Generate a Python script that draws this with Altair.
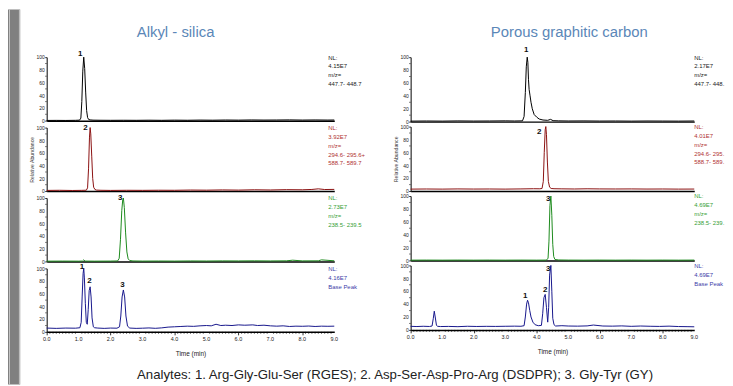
import altair as alt
import pandas as pd

FONT = "Liberation Sans"

# ---------------- data ----------------
# Alkyl-silica column
LS_MZ447_T = [0.0, 0.3, 0.6, 0.9, 1.03, 1.07, 1.10, 1.13, 1.16, 1.19, 1.22, 1.25, 1.28, 1.31, 1.36, 1.45, 1.7, 2.0, 2.4, 2.8, 3.2, 3.6, 4.0, 4.4, 4.8, 5.2, 5.6, 6.0, 6.4, 6.8, 7.2, 7.6, 8.0, 8.4, 8.8, 9.0]
LS_MZ447_V = [0.3, 0.4, 0.3, 0.5, 0.8, 4, 30, 78, 100, 82, 45, 16, 5, 2, 1.2, 0.8, 0.6, 0.5, 0.6, 0.5, 0.7, 0.5, 0.8, 0.6, 0.9, 0.7, 1.0, 0.8, 1.1, 0.9, 1.0, 1.2, 0.9, 1.1, 0.9, 1.0]

LS_MZ294_T = [0.0, 0.4, 0.8, 1.1, 1.24, 1.28, 1.31, 1.34, 1.36, 1.38, 1.41, 1.44, 1.47, 1.51, 1.56, 1.7, 2.0, 2.5, 3.0, 3.5, 4.0, 4.5, 5.0, 5.5, 6.0, 6.5, 7.0, 7.5, 8.0, 8.3, 8.5, 8.7, 9.0]
LS_MZ294_V = [1.0, 1.2, 0.9, 1.1, 1.3, 5, 35, 85, 100, 90, 55, 20, 6, 2.5, 1.5, 1.2, 1.0, 1.2, 1.1, 1.3, 1.2, 1.6, 1.4, 1.8, 1.5, 2.0, 1.7, 2.2, 2.0, 2.5, 3.5, 2.4, 2.6]

LS_MZ238_T = [0.0, 0.5, 1.0, 1.12, 1.16, 1.2, 1.5, 2.0, 2.22, 2.27, 2.31, 2.35, 2.38, 2.40, 2.43, 2.47, 2.51, 2.55, 2.60, 2.7, 3.0, 3.5, 4.0, 4.5, 5.0, 5.5, 6.0, 6.5, 7.0, 7.5, 7.7, 8.0, 8.5, 8.6, 9.0]
LS_MZ238_V = [0.5, 0.6, 0.5, 0.6, 2.5, 0.6, 0.5, 0.6, 0.8, 5, 35, 80, 97, 100, 85, 45, 15, 4, 1.5, 0.8, 0.6, 0.7, 0.6, 0.8, 0.7, 0.9, 0.8, 1.0, 0.8, 1.0, 2.0, 0.9, 1.0, 2.5, 1.0]

LS_BP_T = [0.0, 0.3, 0.6, 0.9, 1.04, 1.08, 1.11, 1.14, 1.16, 1.18, 1.21, 1.24, 1.27, 1.30, 1.33, 1.36, 1.39, 1.42, 1.46, 1.5, 1.6, 1.8, 2.0, 2.2, 2.28, 2.32, 2.36, 2.40, 2.44, 2.48, 2.53, 2.6, 2.8, 3.0, 3.2, 3.4, 3.6, 3.8, 4.0, 4.2, 4.4, 4.6, 4.8, 5.0, 5.15, 5.3, 5.45, 5.6, 5.8, 6.0, 6.2, 6.45, 6.6, 6.8, 7.0, 7.2, 7.4, 7.6, 7.8, 8.0, 8.2, 8.4, 8.6, 8.8, 9.0]
LS_BP_V = [6, 5.5, 6, 5.8, 6.5, 15, 55, 92, 100, 85, 45, 15, 12, 35, 65, 71, 55, 22, 8, 6.5, 6, 5.5, 6, 5.8, 8, 25, 55, 66, 55, 25, 9, 6, 5.5, 5.8, 6.2, 5.6, 6.3, 7.5, 8, 8.5, 9, 8.7, 9.5, 10, 9.5, 12, 10, 10.5, 10, 11, 10.5, 11, 10, 10.5, 9.5, 9, 9.5, 8.5, 9, 8.8, 9.2, 8.5, 9, 8.8, 9]

# Porous graphitic carbon column
PG_MZ447_T = [0.0, 0.5, 1.0, 1.5, 2.0, 2.5, 3.0, 3.3, 3.55, 3.6, 3.64, 3.67, 3.70, 3.72, 3.74, 3.76, 3.79, 3.82, 3.86, 3.92, 4.0, 4.08, 4.2, 4.35, 4.44, 4.52, 4.7, 5.0, 5.5, 6.0, 6.5, 7.0, 7.5, 8.0, 8.5, 9.0]
PG_MZ447_V = [0.8, 1.0, 0.8, 1.1, 0.9, 1.0, 1.2, 1.0, 1.2, 8, 45, 85, 100, 92, 65, 50, 40, 30, 20, 11, 7, 4, 2.5, 2, 3.5, 1.5, 1.2, 1.0, 1.1, 0.9, 1.0, 0.8, 1.0, 0.9, 0.8, 1.0]

PG_MZ294_T = [0.0, 0.5, 1.0, 1.5, 2.0, 2.5, 3.0, 3.5, 3.9, 4.1, 4.17, 4.21, 4.24, 4.27, 4.29, 4.31, 4.34, 4.37, 4.41, 4.46, 4.55, 4.8, 5.2, 5.6, 6.0, 6.5, 7.0, 7.5, 8.0, 8.5, 9.0]
PG_MZ294_V = [3, 3.2, 3.0, 3.3, 3.1, 3.2, 3.0, 3.3, 3.6, 3.5, 4, 15, 60, 95, 100, 88, 45, 15, 6, 4, 3.6, 3.4, 3.2, 3.5, 3.3, 3.2, 3.3, 3.1, 3.2, 3.0, 3.1]

PG_MZ238_T = [0.0, 0.5, 1.0, 1.5, 2.0, 2.5, 3.0, 3.5, 4.0, 4.3, 4.36, 4.39, 4.42, 4.45, 4.48, 4.51, 4.54, 4.58, 4.7, 5.0, 5.5, 6.0, 6.5, 7.0, 7.5, 8.0, 8.5, 9.0]
PG_MZ238_V = [0.5, 0.6, 0.5, 0.6, 0.5, 0.6, 0.5, 0.6, 0.5, 0.6, 3, 30, 85, 100, 70, 25, 6, 1.5, 0.8, 0.6, 0.5, 0.6, 0.5, 0.6, 0.5, 0.6, 0.5, 0.6]

PG_BP_T = [0.0, 0.2, 0.4, 0.6, 0.68, 0.72, 0.75, 0.78, 0.82, 0.86, 0.95, 1.2, 1.5, 1.8, 2.1, 2.4, 2.7, 3.0, 3.3, 3.5, 3.6, 3.64, 3.68, 3.71, 3.74, 3.78, 3.82, 3.88, 3.95, 4.05, 4.15, 4.19, 4.23, 4.27, 4.31, 4.35, 4.38, 4.41, 4.45, 4.48, 4.51, 4.55, 4.6, 4.8, 5.0, 5.3, 5.6, 5.8, 6.1, 6.4, 6.7, 7.0, 7.3, 7.6, 7.9, 8.2, 8.5, 8.8, 9.0]
PG_BP_V = [5.5, 5.2, 5.6, 5.3, 6, 18, 29, 20, 7, 5.5, 5.2, 5.4, 5.0, 5.6, 5.3, 5.5, 5.4, 5.6, 5.8, 5.6, 6.5, 20, 40, 46, 42, 30, 20, 12, 8, 6.5, 7, 25, 50, 55, 35, 12, 35, 85, 100, 60, 18, 8, 6, 6.5, 6, 5.8, 6.2, 7.5, 6, 5.8, 6.2, 5.5, 6, 5.6, 5.4, 5.8, 5.2, 5.0, 4.8]

# peak labels: (label, time, height)
LS_PEAKS = [[("1", 1.16, 100)], [("2", 1.36, 100)], [("3", 2.40, 100)],
            [("1", 1.16, 100), ("2", 1.36, 71), ("3", 2.40, 66)]]
PG_PEAKS = [[("1", 3.70, 100)], [("2", 4.29, 100)], [("3", 4.45, 100)],
            [("1", 3.71, 46), ("2", 4.27, 55), ("3", 4.45, 100)]]

# NL / m/z notes
LS_NOTES = [["NL:", "4.15E7", "m/z=", "447.7- 448.7"],
            ["NL:", "3.92E7", "m/z=", "294.6- 295.6+", "588.7- 589.7"],
            ["NL:", "2.73E7", "m/z=", "238.5- 239.5"],
            ["NL:", "4.16E7", "Base Peak"]]
PG_NOTES = [["NL:", "2.17E7", "m/z=", "447.7- 448.7"],
            ["NL:", "4.01E7", "m/z=", "294.6- 295.6+", "588.7- 589.7"],
            ["NL:", "4.69E7", "m/z=", "238.5- 239.5"],
            ["NL:", "4.69E7", "Base Peak"]]

COL_TITLES = ["Alkyl - silica", "Porous graphitic carbon"]
CAPTION = "Analytes: 1. Arg-Gly-Glu-Ser (RGES); 2. Asp-Ser-Asp-Pro-Arg (DSDPR); 3. Gly-Tyr (GY)"
X_MAJOR = [0, 1, 2, 3, 4, 5, 6, 7, 8, 9]
X_LABELS = ["0.0", "1.0", "2.0", "3.0", "4.0", "5.0", "6.0", "7.0", "8.0", "9.0"]
X_MINOR = [round(i * 0.1, 1) for i in range(91) if i % 10]
Y_MAJOR = [0, 20, 40, 60, 80, 100]
Y_LABELS = ["0", "20", "40", "60", "80", "100"]
Y_MINOR = [10, 30, 50, 70, 90]

# ---------------- styles ----------------
LINE_COLORS = ["#000000", "#8b1010", "#1b8a1b", "#16168c"]
NOTE_COLORS = ["#222222", "#b03232", "#36a036", "#3c3ca8"]
TITLE_COLOR = "#5b87b8"
LINE_H = 8.9

# label offsets (dx, dy) per panel / peak
LS_OFF = [[(-3.5, -3.3)], [(-4.7, 0)], [(-3.3, 0)], [(-1.7, -1), (-0.7, -6), (-1, -4.7)]]
PG_OFF = [[(-1, -7)], [(-6.6, 5)], [(-2.6, 2.7)], [(-2.3, -4.3), (0, -4.6), (-2.6, 4)]]

X_SCALE = alt.Scale(domain=[0, 9], nice=False, zero=False)
Y_SCALE = alt.Scale(domain=[0, 100], nice=False)


def x_enc(bottom):
    if bottom:
        ax = alt.Axis(values=X_MAJOR, labels=False, tickSize=3, tickWidth=0.8,
                      tickColor="#000", domainColor="#000", domainWidth=1.5,
                      title="Time (min)", titleFontSize=6.5, titleFontWeight="normal",
                      titleColor="#222", titlePadding=15, grid=False)
    else:
        ax = alt.Axis(labels=False, ticks=False, title=None, grid=False,
                      domainColor="#000", domainWidth=1.5)
    return alt.X("t:Q", scale=X_SCALE, axis=ax)


def y_enc(title):
    ax = alt.Axis(values=Y_MAJOR, labels=False, tickSize=2, tickWidth=0.8,
                  tickColor="#000", domainColor="#000", domainWidth=1, grid=False,
                  title=title, titleFontSize=5.2, titleFontWeight="normal",
                  titlePadding=9.4, titleColor="#333")
    return alt.Y("v:Q", scale=Y_SCALE, axis=ax)


def panel(t, v, i, peaks, offs, note, note_x, width, height, title=None,
          title_offset=0, title_dx=0, title_dy=0, limit=None):
    bottom = i == 3
    x = x_enc(bottom)
    y = y_enc("Relative Abundance" if i == 1 else None)
    layers = [alt.Chart(pd.DataFrame({"t": t, "v": v})).mark_line(
        color=LINE_COLORS[i], strokeWidth=1).encode(x=x, y=y)]
    # y tick labels and minor ticks
    layers.append(alt.Chart(pd.DataFrame({"v": Y_MAJOR, "lab": Y_LABELS})).mark_text(
        align="right", baseline="middle", fontSize=5, color="#222", dy=0.3).encode(
        x=alt.value(-2), y=y, text="lab:N"))
    layers.append(alt.Chart(pd.DataFrame({"v": Y_MINOR})).mark_rule(
        color="#000", strokeWidth=0.6).encode(x=alt.value(0), x2=alt.value(-1.5), y=y))
    if bottom:
        layers.append(alt.Chart(pd.DataFrame({"t": X_MINOR})).mark_rule(
            color="#000", strokeWidth=0.6).encode(x=x, y=alt.value(height),
                                                 y2=alt.value(height + 2)))
        layers.append(alt.Chart(pd.DataFrame({"t": X_MAJOR, "lab": X_LABELS})).mark_text(
            align="center", baseline="middle", fontSize=5.5, color="#222").encode(
            x=x, y=alt.value(height + 7.5), text="lab:N"))
    for (lab, pt, pv), (dx, dy) in zip(peaks, offs):
        layers.append(alt.Chart(pd.DataFrame({"t": [pt], "v": [pv], "lab": [lab]})).mark_text(
            fontWeight="bold", fontSize=8, dx=dx, dy=dy, baseline="middle",
            color="#111").encode(x=x, y=y, text="lab:N"))
    for k, line in enumerate(note):
        kw = dict(align="left", baseline="middle", fontSize=6, color=NOTE_COLORS[i],
                  dy=0.5 + k * LINE_H)
        if limit:
            kw.update(limit=limit, ellipsis="\u200b")
        layers.append(alt.Chart(pd.DataFrame({"note": [line]})).mark_text(**kw).encode(
            x=alt.datum(note_x), y=alt.datum(100), text="note:N"))
    ch = alt.layer(*layers).properties(width=width, height=height)
    if title:
        ch = ch.properties(title=alt.TitleParams(title, frame="group", anchor="middle",
                                                 fontSize=15, fontWeight="normal",
                                                 color=TITLE_COLOR, baseline="alphabetic",
                                                 offset=title_offset, dx=title_dx,
                                                 dy=title_dy))
    return ch


ls_data = [(LS_MZ447_T, LS_MZ447_V), (LS_MZ294_T, LS_MZ294_V), (LS_MZ238_T, LS_MZ238_V), (LS_BP_T, LS_BP_V)]
pg_data = [(PG_MZ447_T, PG_MZ447_V), (PG_MZ294_T, PG_MZ294_V), (PG_MZ238_T, PG_MZ238_V), (PG_BP_T, PG_BP_V)]

left_col = alt.vconcat(*[
    panel(t, v, i, LS_PEAKS[i], LS_OFF[i], LS_NOTES[i], 8.81, 290, 64,
          title=COL_TITLES[0] if i == 0 else None, title_offset=11, title_dx=-15,
          title_dy=13)
    for i, (t, v) in enumerate(ls_data)], spacing=7, bounds="flush")

right_col = alt.vconcat(*[
    panel(t, v, i, PG_PEAKS[i], PG_OFF[i], PG_NOTES[i], 9.0, 286, 65,
          title=COL_TITLES[1] if i == 0 else None, title_offset=7.5, title_dx=17,
          title_dy=13, limit=33)
    for i, (t, v) in enumerate(pg_data)], spacing=5, bounds="flush")

inner = alt.hconcat(left_col, right_col, spacing=28,
                    title=alt.TitleParams(CAPTION, orient="bottom", anchor="middle",
                                          fontSize=13.3, fontWeight="normal",
                                          color="#222", offset=12, dx=18))

# decorative frame strip on the left
TOP_EXT = 48
STRIP_H = 378
strip_base = alt.Chart(pd.DataFrame({"k": [0]}))
strip = alt.layer(
    strip_base.mark_rect(color="#808080").encode(
        x=alt.value(0), x2=alt.value(12), y=alt.value(-TOP_EXT), y2=alt.value(STRIP_H - TOP_EXT)),
    strip_base.mark_rect(color="#c4c4c4").encode(
        x=alt.value(1), x2=alt.value(2), y=alt.value(-TOP_EXT), y2=alt.value(STRIP_H - TOP_EXT)),
    strip_base.mark_rect(color="#bdbdbd").encode(
        x=alt.value(11), x2=alt.value(12.5), y=alt.value(-TOP_EXT), y2=alt.value(STRIP_H - TOP_EXT)),
).properties(width=12, height=10)

chart = alt.hconcat(strip, inner, spacing=9).properties(
    padding=0, background="white"
).configure(font=FONT).configure_view(strokeWidth=0)

chart.save("out.html", embed_options={"renderer": "svg", "actions": False})
